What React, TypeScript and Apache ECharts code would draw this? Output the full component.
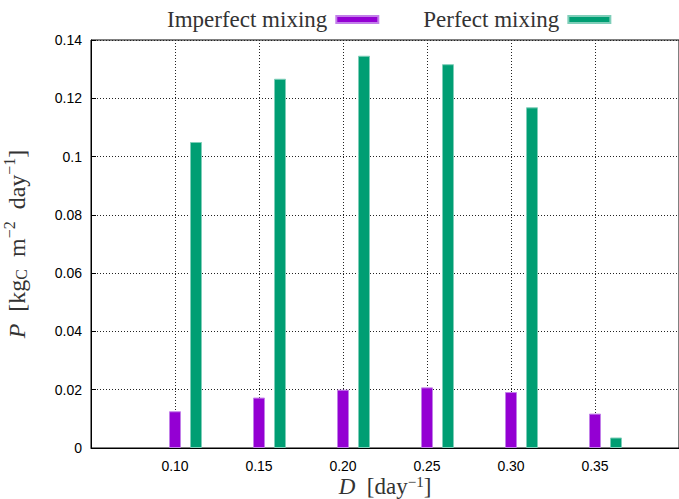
import React, { useEffect, useRef } from "react";
import * as echarts from "echarts";

const dilution = [0.1, 0.15, 0.2, 0.25, 0.3, 0.35];
const imperfect = [0.0126, 0.0173, 0.02, 0.0208, 0.0192, 0.0118];
const perfect = [0.105, 0.1267, 0.1346, 0.1317, 0.1169, 0.0036];
const yTicks = [0, 0.02, 0.04, 0.06, 0.08, 0.1, 0.12, 0.14];

const PAIR_OFFSET = 0.0125;
const SERIF = "'Liberation Serif', 'DejaVu Serif', serif";
const SANS = "'Liberation Sans', Arial, sans-serif";

export default function App() {
  const ref = useRef<HTMLDivElement>(null);
  useEffect(() => {
    if (!ref.current) return;
    const chart = echarts.init(ref.current, undefined, { renderer: "svg" });
    const gridLine = { show: true, lineStyle: { color: "#222", type: [1, 2] as any, width: 1 } };
    chart.setOption({
      animation: false,
      backgroundColor: "#fff",
      legend: {
        top: 3,
        left: 162,
        align: "right",
        itemWidth: 42,
        itemHeight: 7,
        itemGap: 44,
        icon: "rect",
        textStyle: { fontFamily: SERIF, fontSize: 23, color: "#333", padding: [0, 4, 0, 0] },
        data: ["Imperfect mixing", "Perfect mixing"],
      },
      grid: {
        left: 91,
        right: 0,
        top: 40,
        bottom: 51,
        show: true,
        borderColor: "#000",
        borderWidth: 1,
        outerBoundsMode: "none",
        containLabel: false,
      },
      xAxis: {
        type: "value",
        min: 0.05,
        max: 0.4,
        interval: 0.05,
        name: "{i|D}{n|  [day}{sup|−1}{n|]}",
        nameLocation: "middle",
        nameGap: 28,
        nameMoveOverlap: false,
        nameTextStyle: {
          rich: {
            i: { fontFamily: SERIF, fontSize: 23, lineHeight: 20, fontStyle: "italic", color: "#333" },
            n: { fontFamily: SERIF, fontSize: 23, lineHeight: 20, color: "#333" },
            sup: { fontFamily: SERIF, fontSize: 15, lineHeight: 12, color: "#333", padding: [0, 0, 9, 0] },
          },
        },
        axisLine: { show: true, lineStyle: { color: "#000", width: 1 } },
        axisTick: { show: true, inside: true, length: 5, lineStyle: { color: "#000" } },
        axisLabel: {
          fontFamily: SANS,
          fontSize: 14,
          lineHeight: 14,
          color: "#000",
          margin: 11,
          formatter: (v: number) => (v < 0.07 || v > 0.38 ? "" : v.toFixed(2)),
        },
        splitLine: gridLine,
      },
      yAxis: {
        type: "value",
        min: yTicks[0],
        max: yTicks[yTicks.length - 1],
        interval: 0.02,
        name: "{i|P}{n|  [kg}{sub|C}{n|  m}{sup|−2}{n|  day}{sup|−1}{n|]}",
        nameLocation: "middle",
        nameGap: 59,
        nameMoveOverlap: false,
        nameTextStyle: {
          rich: {
            i: { fontFamily: SERIF, fontSize: 24, fontStyle: "italic", color: "#333" },
            n: { fontFamily: SERIF, fontSize: 24, color: "#333" },
            sub: { fontFamily: SERIF, fontSize: 16, color: "#333", padding: [9, 0, 0, 0] },
            sup: { fontFamily: SERIF, fontSize: 16, color: "#333", padding: [0, 0, 15, 0] },
          },
        },
        axisLine: { show: true, lineStyle: { color: "#000", width: 1 } },
        axisTick: { show: true, inside: true, length: 5, lineStyle: { color: "#000" } },
        axisLabel: { fontFamily: SANS, fontSize: 14, color: "#000", margin: 9 },
        splitLine: gridLine,
      },
      series: [
        {
          name: "Imperfect mixing",
          type: "bar",
          barWidth: 12,
          barGap: "-100%",
          itemStyle: { color: "#9400D3", borderColor: "#c27fe9", borderWidth: 1 },
          data: dilution.map((d, i) => [d, imperfect[i]]),
        },
        {
          name: "Perfect mixing",
          type: "bar",
          barWidth: 12,
          barGap: "-100%",
          itemStyle: { color: "#009E73", borderColor: "#7fceb9", borderWidth: 1 },
          data: dilution.map((d, i) => [d + PAIR_OFFSET, perfect[i]]),
        },
      ],
    });
    return () => chart.dispose();
  }, []);
  return <div ref={ref} style={{ width: 679, height: 499, position: "absolute", left: 0, top: 0 }} />;
}
